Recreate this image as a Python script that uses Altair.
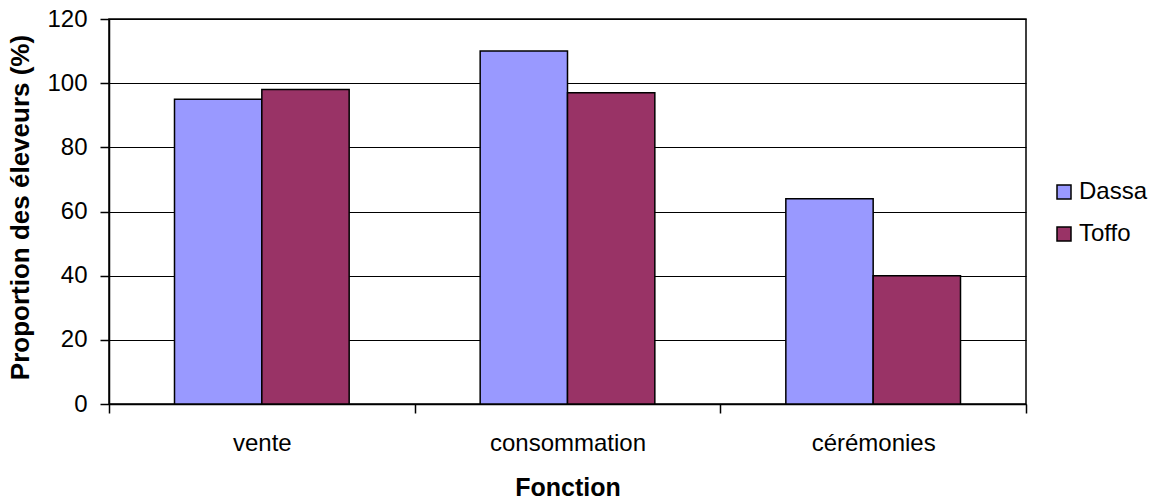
import altair as alt
import pandas as pd

# Proportion of farmers by use (Fonction), for two communes
fonctions = ["vente", "consommation", "cérémonies"]
dassa = [95, 110, 64]
toffo = [98, 97, 40]
series = ["Dassa", "Toffo"]
colors = ["#9999FF", "#993366"]
y_ticks = [0, 20, 40, 60, 80, 100, 120]

rows = []
for i, f in enumerate(fonctions):
    rows.append({"Fonction": f, "Commune": "Dassa", "Proportion": dassa[i]})
    rows.append({"Fonction": f, "Commune": "Toffo", "Proportion": toffo[i]})
df = pd.DataFrame(rows)

FONT = "Liberation Sans"

bars = alt.Chart(df).mark_bar(stroke="black", strokeWidth=1.5).encode(
    x=alt.X(
        "Fonction:N",
        sort=fonctions,
        scale=alt.Scale(paddingInner=0, paddingOuter=0),
        axis=alt.Axis(
            title="Fonction",
            labelAngle=0,
            labelFont=FONT,
            labelFontSize=24,
            labelColor="black",
            labelBaseline="top",
            labelPadding=18,
            tickBand="extent",
            tickSize=9,
            tickColor="black",
            tickWidth=1.5,
            domainColor="black",
            domainWidth=1.5,
            titleFont=FONT,
            titleFontSize=25,
            titleFontWeight="bold",
            titleColor="black",
            titleBaseline="alphabetic",
            titleY=91,
            grid=False,
        ),
    ),
    xOffset=alt.XOffset(
        "Commune:N",
        sort=series,
        scale=alt.Scale(paddingInner=0, paddingOuter=0.75),
    ),
    y=alt.Y(
        "Proportion:Q",
        scale=alt.Scale(domain=[0, 120], nice=False),
        axis=alt.Axis(
            title="Proportion des éleveurs (%)",
            values=y_ticks,
            labelFont=FONT,
            labelFontSize=24,
            labelColor="black",
            labelPadding=13,
            tickSize=9,
            tickColor="black",
            tickWidth=1.5,
            domainColor="black",
            domainWidth=1.5,
            gridColor="black",
            gridWidth=1.2,
            gridOpacity=1,
            titleFont=FONT,
            titleFontSize=26,
            titleFontWeight="bold",
            titleColor="black",
            titleAngle=-90,
            titleBaseline="alphabetic",
            titleAlign="center",
            titleX=-81,
            titleY=188,
        ),
    ),
    color=alt.Color(
        "Commune:N",
        sort=series,
        scale=alt.Scale(domain=series, range=colors),
        legend=alt.Legend(
            title=None,
            orient="none",
            legendX=943,
            legendY=161,
            padding=0,
            symbolType="square",
            symbolSize=196,
            symbolStrokeColor="black",
            symbolStrokeWidth=1.5,
            symbolOpacity=1,
            labelFont=FONT,
            labelFontSize=24,
            labelColor="black",
            labelOffset=3,
            rowPadding=18,
        ),
    ),
)

chart = bars.properties(
    width=917,
    height=385,
    autosize=alt.AutoSizeParams(type="none"),
    padding={"left": 109, "top": 19, "right": 131, "bottom": 96},
    background="white",
).configure_view(
    stroke="black",
    strokeWidth=1.5,
)

chart.save("out.html", embed_options={"renderer": "svg", "actions": False})
